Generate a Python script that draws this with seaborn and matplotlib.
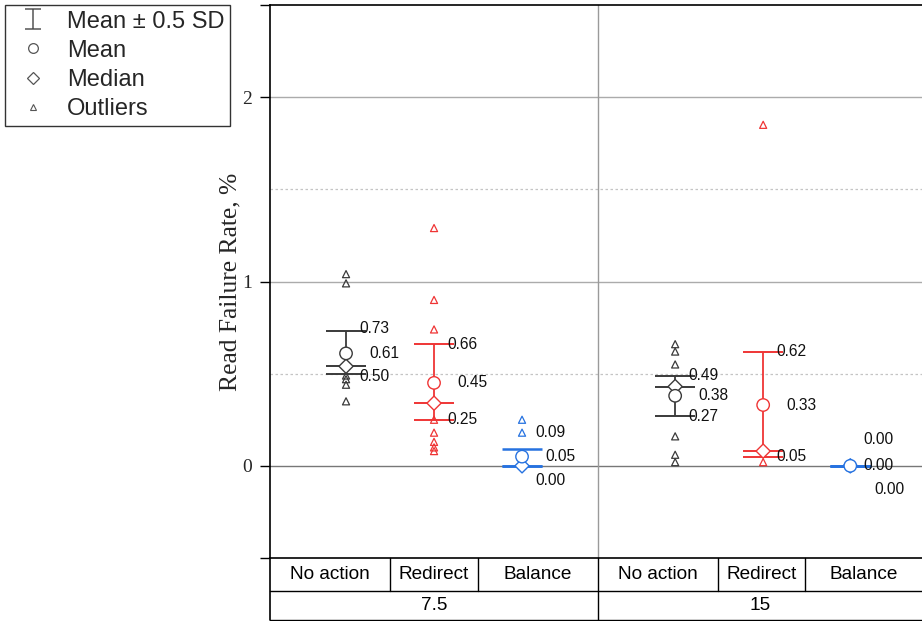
import numpy as np
import pandas as pd
import matplotlib
matplotlib.use("Agg")
import matplotlib.pyplot as plt
from matplotlib.lines import Line2D
from matplotlib.path import Path
import matplotlib.transforms as mtransforms
import seaborn as sns

# ---- data -------------------------------------------------------------
groups = ["7.5", "15"]
actions = ["No action", "Redirect", "Balance"]

means = [0.61, 0.45, 0.05, 0.38, 0.33, 0.00]
upper = [0.73, 0.66, 0.09, 0.49, 0.62, 0.00]   # mean + 0.5 SD
lower = [0.50, 0.25, 0.00, 0.27, 0.05, 0.00]   # mean - 0.5 SD
medians = [0.54, 0.34, 0.00, 0.43, 0.08, 0.00]

outliers = [
    [1.04, 0.99, 0.49, 0.47, 0.44, 0.35],
    [1.29, 0.90, 0.74, 0.25, 0.18, 0.13, 0.10, 0.08],
    [0.25, 0.18, 0.00],
    [0.66, 0.62, 0.55, 0.16, 0.06, 0.02],
    [1.85, 0.02],
    [],
]

# ---- layout -------------------------------------------------------------
W, H = 922, 621
positions = [0.0, 1.0, 2.0, 3.74, 4.74, 5.73]
xlim = (-0.864, 6.545)
sep_x = 2.86
col_edges = [0.5, 1.5, 4.23, 5.22]
palette = {"No action": "#3a3a3a", "Redirect": "#ef3535", "Balance": "#2672e0"}
cap_half = 0.23

# per-box label offsets in pixels: (upper, mean, lower) -> (dx, dy)
label_offsets = [
    [(13, 3), (23, 0), (13, -3)],
    [(13, 0), (23, 0), (13, 0)],
    [(13, 17), (23, 0), (13, -15)],
    [(13, 0), (23, 0), (13, 0)],
    [(13, 0), (23, 0), (13, 0)],
    [(13, 26), (13, 0), (24, -24)],
]

sns.set_theme(style="white")
plt.rcParams["font.family"] = ["Liberation Sans", "DejaVu Sans"]

fig = plt.figure(figsize=(W / 100, H / 100), dpi=100)
ax = fig.add_axes([270 / W, 1 - 558 / H, (W - 270) / W, 553 / H])

box_action = [actions[i % 3] for i in range(6)]

# grid
for y in (1, 2):
    ax.axhline(y, color="#ababab", lw=1.0, zorder=0)
ax.axhline(0, color="#777777", lw=1.0, zorder=0)
for y in (0.5, 1.5):
    ax.axhline(y, color="#c4c4c4", lw=0.9, ls=(0, (2, 2)), zorder=0)
ax.axvline(sep_x, color="#9a9a9a", lw=1.0, zorder=0)

# outlier points
out_df = pd.DataFrame(
    [(positions[i], v, box_action[i]) for i in range(6) for v in outliers[i]],
    columns=["x", "y", "action"],
)
sns.scatterplot(data=out_df, x="x", y="y", hue="action", palette=palette,
                marker="^", s=26, facecolor="none", linewidth=0.9,
                legend=False, ax=ax, zorder=3)
for coll in ax.collections:
    coll.set_facecolor("none")
    coll.set_edgecolor([palette[a] for a in out_df["action"]])

# whiskers, caps and median lines
for i in range(6):
    c = palette[box_action[i]]
    x = positions[i]
    lw_cap = 1.8 if box_action[i] == "Balance" else 1.4
    ax.vlines(x, lower[i], upper[i], color=c, lw=1.3, zorder=2)
    ax.hlines([upper[i], lower[i], medians[i]], x - cap_half, x + cap_half,
              color=c, lw=lw_cap, zorder=2)

# mean and median markers
stat_df = pd.DataFrame({"x": positions, "mean": means, "median": medians,
                        "action": box_action})
for col, mk, size in (("median", "D", 52), ("mean", "o", 80)):
    n0 = len(ax.collections)
    sns.scatterplot(data=stat_df, x="x", y=col, hue="action", palette=palette,
                    marker=mk, s=size, linewidth=1.0, legend=False, ax=ax, zorder=4)
    for coll in ax.collections[n0:]:
        coll.set_facecolor("white")
        coll.set_edgecolor([palette[a] for a in stat_df["action"]])

# value labels
for i in range(6):
    x = positions[i]
    for val, (dx, dy) in zip((upper[i], means[i], lower[i]), label_offsets[i]):
        ax.annotate(f"{val:.2f}", (x, val), xytext=(dx, dy),
                    textcoords="offset pixels", ha="left", va="center",
                    fontsize=11.2, color="#111111", zorder=6)

ax.set_xlim(*xlim)
ax.set_ylim(-0.5, 2.5)
ax.set_xticks([])
ax.set_xlabel("")
ax.set_yticks([-0.5, 0, 1, 2, 2.5])
ax.set_yticklabels(["", "0", "1", "2", ""], family=["Liberation Serif"], fontsize=14)
ax.tick_params(axis="y", direction="out", length=7, width=1.0, color="black",
               left=True, pad=6)
ax.set_ylabel("Read Failure Rate, %", family=["Liberation Serif"], fontsize=18.4,
              labelpad=0.5)
for side in ("left", "top", "bottom"):
    ax.spines[side].set_color("black")
    ax.spines[side].set_linewidth(1.2)
ax.spines["right"].set_visible(False)

# category table under the axis
trans = mtransforms.blended_transform_factory(ax.transData, ax.transAxes)
ax_h = 553
r1 = -33 / ax_h
r2 = -(H - 558 - 1.5) / ax_h
tbl = dict(color="black", lw=1.0, transform=trans, clip_on=False, zorder=5)
ax.add_line(Line2D([xlim[0], xlim[1] + 1], [r1, r1], **tbl))
ax.add_line(Line2D([xlim[0], xlim[1] + 1], [r2, r2], **tbl))
ax.add_line(Line2D([xlim[0], xlim[0]], [0, r2], **{**tbl, "lw": 1.2}))
ax.add_line(Line2D([sep_x, sep_x], [0, r2], **tbl))
for xe in col_edges:
    ax.add_line(Line2D([xe, xe], [0, r1], **tbl))

cell_centers = [(xlim[0] + col_edges[0]) / 2, (col_edges[0] + col_edges[1]) / 2,
                (col_edges[1] + sep_x) / 2, (sep_x + col_edges[2]) / 2,
                (col_edges[2] + col_edges[3]) / 2, (col_edges[3] + xlim[1]) / 2]
for i in range(6):
    ax.text(cell_centers[i], r1 / 2, box_action[i], transform=trans,
            ha="center", va="center", fontsize=13.7, color="black")
group_centers = [(xlim[0] + sep_x) / 2, (sep_x + xlim[1]) / 2]
for g, gc in zip(groups, group_centers):
    ax.text(gc, (r1 + r2) / 2, g, transform=trans, ha="center", va="center",
            fontsize=13.7, color="black")

# legend
ibeam = Path([(0, -1), (0, 1), (-0.75, 1), (0.75, 1), (-0.75, -1), (0.75, -1)],
             [Path.MOVETO, Path.LINETO, Path.MOVETO, Path.LINETO,
              Path.MOVETO, Path.LINETO])
gray = "#555555"
handles = [
    Line2D([], [], marker=ibeam, markersize=14.5, color=gray, ls="none",
           markeredgewidth=1.1),
    Line2D([], [], marker="o", markersize=7, color=gray, ls="none",
           markerfacecolor="white", markeredgewidth=0.9),
    Line2D([], [], marker="D", markersize=6.3, color=gray, ls="none",
           markerfacecolor="white", markeredgewidth=0.9),
    Line2D([], [], marker="^", markersize=4.8, color=gray, ls="none",
           markerfacecolor="white", markeredgewidth=0.8),
]
leg = fig.legend(handles, ["Mean \u00b1 0.5 SD", "Mean", "Median", "Outliers"],
                 loc="upper left", bbox_to_anchor=(5 / W, 1 - 5 / H),
                 frameon=True, fancybox=False, fontsize=17.0, handlelength=1.9,
                 handletextpad=0.5, labelspacing=0.3, borderpad=0.24,
                 borderaxespad=0)
leg.get_frame().set_edgecolor("black")
leg.get_frame().set_linewidth(1.0)

fig.savefig("out.png", dpi=100)
